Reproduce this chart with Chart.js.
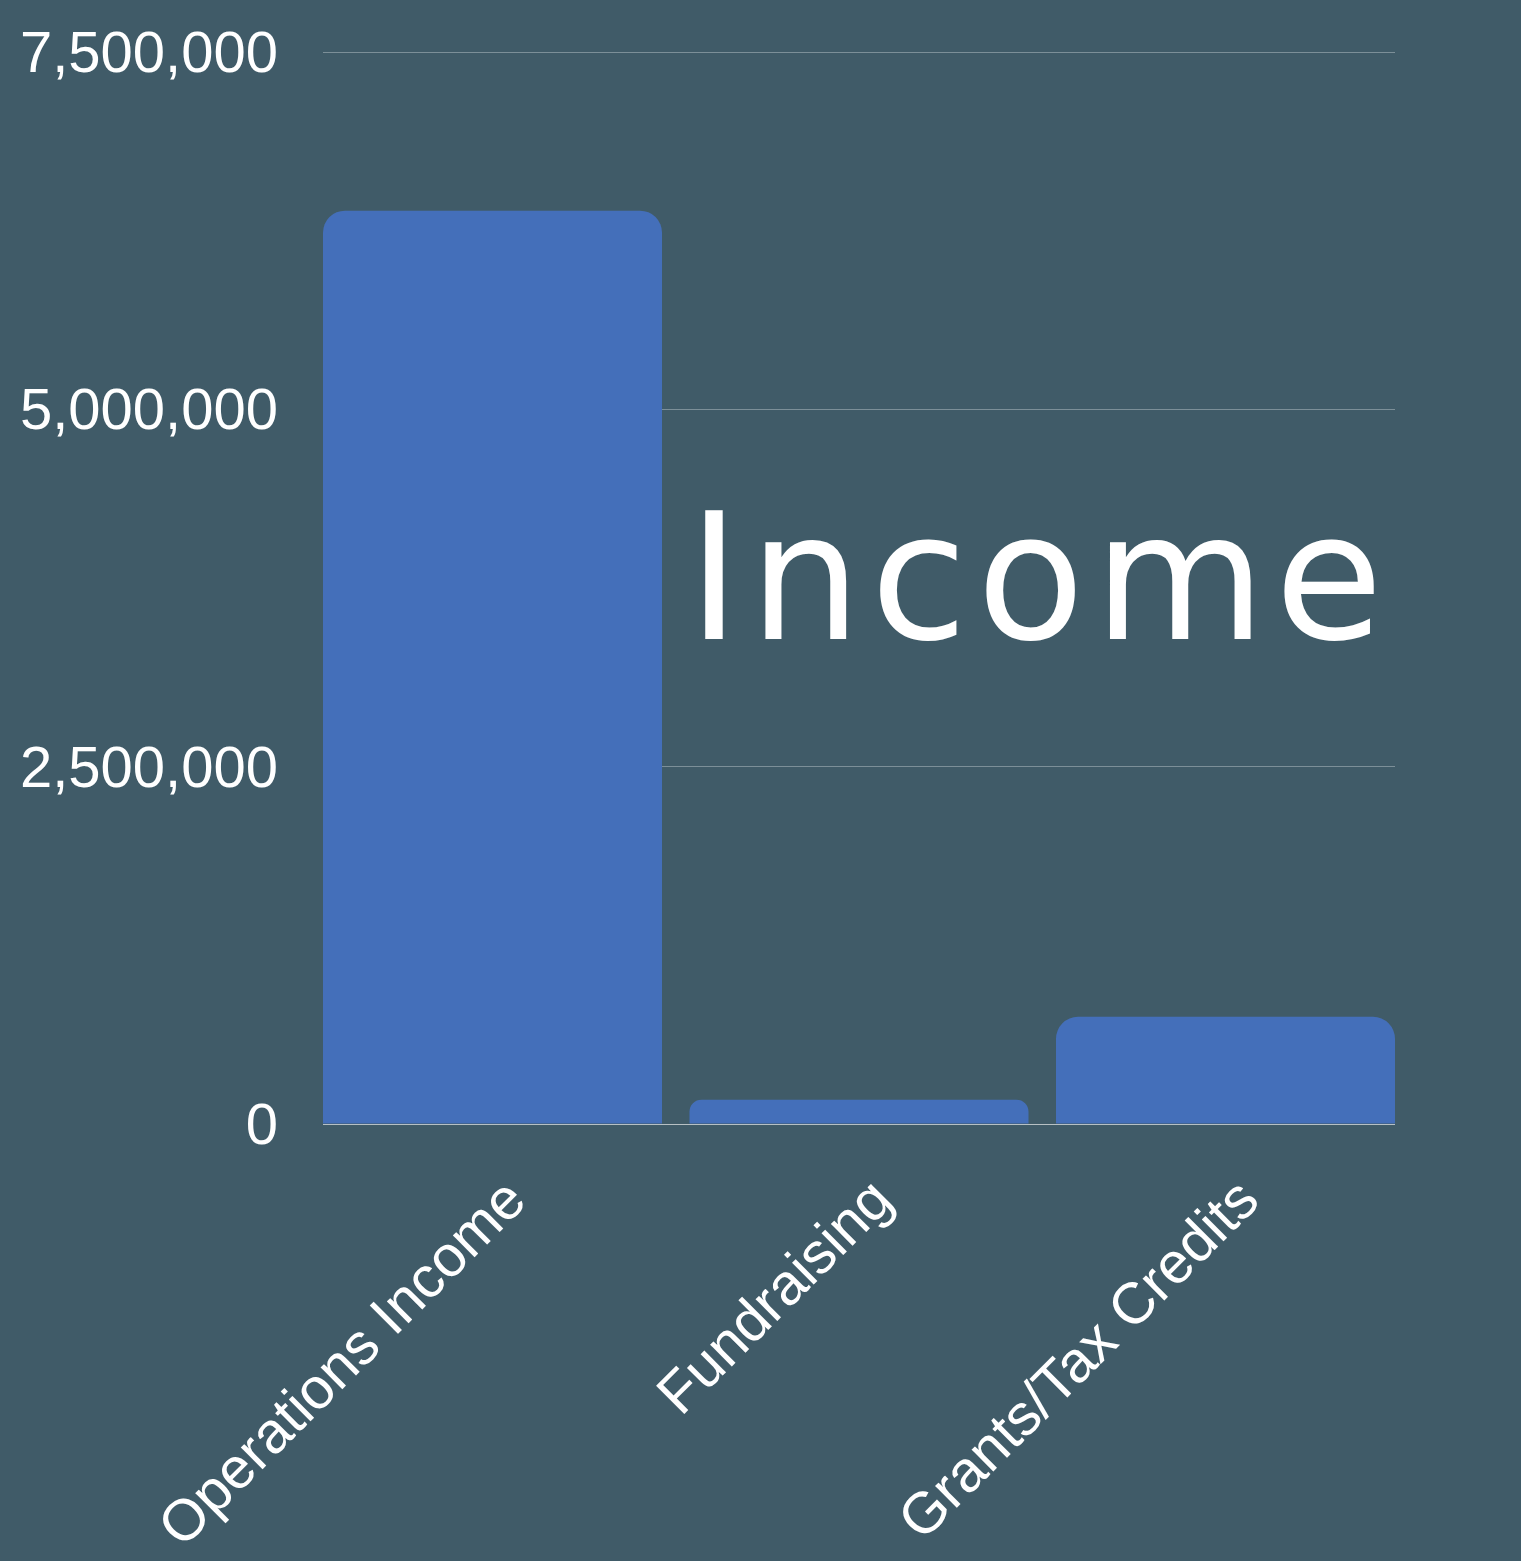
<!DOCTYPE html>
<html>
<head>
<meta charset="utf-8">
<script src="https://cdn.jsdelivr.net/npm/chart.js@4.4.1/dist/chart.umd.min.js"></script>
<style>
  html, body { margin: 0; padding: 0; background: #405b68; }
  #wrap { position: relative; width: 1521px; height: 1561px; }
  #title {
    position: absolute; left: 688px; top: 491px;
    font-family: 'DejaVu Sans', sans-serif; font-weight: 400;
    font-size: 176px; line-height: 1; color: #ffffff; letter-spacing: 9.5px;
  }
</style>
</head>
<body>
<div id="wrap">
  <canvas id="barChart"></canvas>
  <div id="title">Income</div>
</div>
<script>
// Income · bar chart

const categories = ['Operations Income', 'Fundraising', 'Grants/Tax Credits'];
const incomeValues = [6390000, 170000, 750000];
const yTicks = [0, 2500000, 5000000, 7500000];

Chart.defaults.color = '#ffffff';
Chart.defaults.font.family = "'Liberation Sans', Arial, sans-serif";

// bars sit on a linear x axis so the outer bars can touch the plot edges
const points = incomeValues.map((v, i) => ({ x: i, y: v }));
const xPad = 0.4625;

const ctx = document.getElementById('barChart');

new Chart(ctx, {
  type: 'bar',
  data: {
    datasets: [{
      label: 'Income',
      data: points,
      backgroundColor: '#446fba',
      borderRadius: { topLeft: 22, topRight: 22 },
      borderSkipped: 'bottom',
      barPercentage: 0.925,
      categoryPercentage: 1.0,
    }]
  },
  options: {
    responsive: true,
    maintainAspectRatio: false,
    animation: false,
    layout: { padding: { left: 14, right: 126, top: 52, bottom: 12 } },
    plugins: {
      legend: { display: false },
      tooltip: { enabled: false }
    },
    scales: {
      x: {
        type: 'linear',
        offset: false,
        min: -xPad,
        max: categories.length - 1 + xPad,
        afterBuildTicks: axis => { axis.ticks = categories.map((c, i) => ({ value: i })); },
        grid: { display: false },
        border: { display: false },
        afterFit: axis => { axis.paddingLeft = 0; axis.paddingRight = 0; axis.height = 425; },
        ticks: {
          font: { size: 58 },
          minRotation: 45,
          maxRotation: 45,
          autoSkip: false,
          padding: 35,
          labelOffset: 25,
          callback: v => categories[v]
        }
      },
      y: {
        min: 0,
        max: 7500000,
        afterBuildTicks: axis => { axis.ticks = yTicks.map(v => ({ value: v })); },
        afterFit: axis => { axis.width = 309; axis.paddingTop = 0; axis.paddingBottom = 0; },
        border: { display: false },
        grid: {
          drawTicks: false,
          lineWidth: 1,
          color: c => c.tick && c.tick.value === 0 ? '#b7c0c4' : '#7c8f98',
        },
        ticks: {
          font: { size: 58 },
          padding: 45,
          labelOffset: 4,
          callback: v => v.toLocaleString('en-US')
        }
      }
    }
  }
});
</script>
</body>
</html>
